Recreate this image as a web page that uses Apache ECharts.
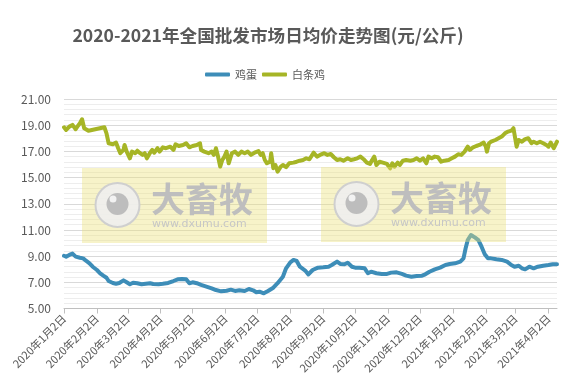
<!DOCTYPE html>
<html><head><meta charset="utf-8">
<script src="https://cdn.jsdelivr.net/npm/echarts@6/dist/echarts.min.js"></script>
<style>html,body{margin:0;padding:0;background:#fff}#c{width:584px;height:390px}</style>
</head><body><div id="c"></div>
<script>
const titleText = '2020-2021年全国批发市场日均价走势图(元/公斤)';
const seriesNames = ['鸡蛋', '白条鸡'];
const tickDates = ['2020-01-02','2020-02-02','2020-03-02','2020-04-02','2020-05-02','2020-06-02','2020-07-02','2020-08-02','2020-09-02','2020-10-02','2020-11-02','2020-12-02','2021-01-02','2021-02-02','2021-03-02','2021-04-02'];
const axisStart = '2020-01-02';
const axisEnd = '2021-04-10';

const eggDates = [
'2020-01-02','2020-01-04','2020-01-07','2020-01-10','2020-01-13','2020-01-17','2020-01-20','2020-01-23','2020-01-26','2020-01-29',
'2020-02-02','2020-02-05','2020-02-08','2020-02-11','2020-02-13','2020-02-17','2020-02-20','2020-02-23','2020-02-27',
'2020-03-01','2020-03-04','2020-03-07','2020-03-11','2020-03-15','2020-03-19','2020-03-23','2020-03-26','2020-03-31',
'2020-04-04','2020-04-09','2020-04-14','2020-04-18','2020-04-22','2020-04-26','2020-04-29',
'2020-05-02','2020-05-06','2020-05-10','2020-05-15','2020-05-20','2020-05-24','2020-05-29',
'2020-06-03','2020-06-07','2020-06-11','2020-06-15','2020-06-20','2020-06-24','2020-06-28',
'2020-07-01','2020-07-04','2020-07-08','2020-07-12','2020-07-17','2020-07-21','2020-07-26','2020-07-29',
'2020-08-02','2020-08-05','2020-08-08','2020-08-11','2020-08-16','2020-08-19','2020-08-23','2020-08-28',
'2020-09-02','2020-09-07','2020-09-10','2020-09-15','2020-09-18','2020-09-22','2020-09-25','2020-09-29',
'2020-10-02','2020-10-06','2020-10-11','2020-10-14','2020-10-17','2020-10-22','2020-10-27',
'2020-11-01','2020-11-05','2020-11-10','2020-11-15','2020-11-19','2020-11-24','2020-11-29',
'2020-12-04','2020-12-07','2020-12-11','2020-12-16','2020-12-21','2020-12-26','2020-12-30',
'2021-01-04','2021-01-09','2021-01-12','2021-01-14','2021-01-16','2021-01-19','2021-01-23','2021-01-26','2021-01-29',
'2021-02-01','2021-02-04','2021-02-07','2021-02-12','2021-02-17','2021-02-22','2021-02-26',
'2021-03-01','2021-03-05','2021-03-08','2021-03-11','2021-03-15','2021-03-19','2021-03-23','2021-03-28',
'2021-04-02','2021-04-06','2021-04-10'];
const eggValues = [
9.03,8.96,9.09,9.19,8.96,8.88,8.83,8.63,8.45,8.19,
7.94,7.69,7.51,7.35,7.10,6.95,6.89,6.95,7.15,
7.00,6.85,6.97,6.93,6.85,6.89,6.93,6.87,6.85,
6.89,6.95,7.10,7.23,7.25,7.23,6.93,
7.00,6.93,6.80,6.67,6.54,6.41,6.31,
6.36,6.44,6.34,6.39,6.34,6.49,6.39,
6.24,6.28,6.16,6.34,6.59,6.93,7.43,8.07,
8.53,8.71,8.63,8.19,7.90,7.60,7.94,8.12,
8.15,8.19,8.32,8.58,8.40,8.38,8.50,8.19,
8.12,8.12,8.07,7.69,7.81,7.69,7.64,
7.64,7.74,7.76,7.64,7.51,7.43,7.48,
7.51,7.61,7.81,7.99,8.12,8.32,8.40,
8.45,8.58,8.83,9.60,10.23,10.61,10.41,10.23,9.72,
9.14,8.83,8.83,8.76,8.71,8.58,8.32,
8.19,8.27,8.07,7.99,8.19,8.07,8.19,8.27,
8.32,8.38,8.38];

const chickenDates = [
'2020-01-02','2020-01-04','2020-01-07','2020-01-10','2020-01-13','2020-01-15','2020-01-17','2020-01-19','2020-01-21','2020-01-25',
'2020-02-09','2020-02-11','2020-02-13','2020-02-17','2020-02-20','2020-02-22','2020-02-24','2020-02-27','2020-02-28',
'2020-03-01','2020-03-04','2020-03-06','2020-03-09','2020-03-11','2020-03-13','2020-03-16','2020-03-18','2020-03-20','2020-03-23','2020-03-25','2020-03-27','2020-03-30',
'2020-04-01','2020-04-04','2020-04-07','2020-04-11','2020-04-14','2020-04-16','2020-04-19','2020-04-23','2020-04-26','2020-04-29',
'2020-05-02','2020-05-06','2020-05-09','2020-05-10','2020-05-13','2020-05-17','2020-05-20','2020-05-22','2020-05-24','2020-05-26','2020-05-28','2020-05-30',
'2020-06-01','2020-06-03','2020-06-05','2020-06-08','2020-06-11','2020-06-14','2020-06-17','2020-06-20','2020-06-23','2020-06-26','2020-06-30',
'2020-07-03','2020-07-05','2020-07-07','2020-07-09','2020-07-11','2020-07-14','2020-07-15','2020-07-17','2020-07-19','2020-07-21','2020-07-24','2020-07-26','2020-07-29',
'2020-08-01','2020-08-05','2020-08-08','2020-08-11','2020-08-14','2020-08-17','2020-08-20','2020-08-24','2020-08-27','2020-08-30',
'2020-09-03','2020-09-06','2020-09-09','2020-09-12','2020-09-15','2020-09-18','2020-09-21','2020-09-25','2020-09-28',
'2020-10-01','2020-10-04','2020-10-07','2020-10-10','2020-10-13','2020-10-16','2020-10-18','2020-10-20','2020-10-22','2020-10-25','2020-10-28',
'2020-11-01','2020-11-04','2020-11-06','2020-11-08','2020-11-11','2020-11-13','2020-11-16','2020-11-19','2020-11-23','2020-11-26','2020-11-29',
'2020-12-02','2020-12-05','2020-12-08','2020-12-10','2020-12-13','2020-12-16','2020-12-19','2020-12-22','2020-12-25','2020-12-29',
'2021-01-01','2021-01-04','2021-01-07','2021-01-10','2021-01-13','2021-01-16','2021-01-18','2021-01-21','2021-01-24','2021-01-27','2021-01-31',
'2021-02-02','2021-02-03','2021-02-05','2021-02-07','2021-02-11','2021-02-14','2021-02-17','2021-02-20','2021-02-23','2021-02-26','2021-02-28',
'2021-03-01','2021-03-03','2021-03-05','2021-03-08','2021-03-11','2021-03-14','2021-03-17','2021-03-19','2021-03-22','2021-03-25','2021-03-28','2021-03-31',
'2021-04-02','2021-04-04','2021-04-07','2021-04-10'];
const chickenValues = [
18.84,18.64,18.89,19.02,18.69,18.94,19.15,19.45,18.77,18.58,
18.84,18.38,17.62,17.54,17.67,17.24,16.86,17.11,17.49,
16.98,16.47,16.98,16.86,17.05,16.90,16.73,16.86,16.47,16.90,17.11,16.90,17.24,
16.98,17.31,17.24,17.36,17.11,17.54,17.41,17.49,17.62,17.31,
17.41,17.49,17.62,17.11,16.98,16.86,16.98,16.73,17.24,16.60,15.83,16.34,
16.60,16.98,16.09,16.86,16.98,16.73,16.98,16.86,16.98,16.73,16.93,
17.03,16.73,16.86,16.34,16.09,16.21,16.86,15.71,15.96,15.45,15.83,15.96,15.79,
16.09,16.14,16.21,16.29,16.34,16.47,16.40,16.90,16.60,16.73,
16.86,16.73,16.80,16.55,16.34,16.40,16.29,16.47,16.34,
16.40,16.47,16.60,16.40,16.14,16.04,16.34,16.60,15.96,16.21,16.14,
16.04,15.71,16.09,15.83,16.14,15.96,16.29,16.34,16.29,16.34,16.47,
16.29,16.47,16.09,16.60,16.47,16.60,16.55,16.21,16.29,16.34,
16.47,16.60,16.78,16.73,16.98,17.36,17.11,17.31,17.41,17.49,17.67,
17.36,16.98,17.62,17.74,17.87,18.00,18.13,18.38,18.51,18.58,18.77,
18.89,17.36,17.87,17.74,17.93,18.00,17.62,17.74,17.62,17.74,17.62,17.49,
17.36,17.67,17.24,17.74];

const toTs = s => { const p = s.split('-').map(Number); return new Date(p[0], p[1] - 1, p[2]).getTime(); };
const zip = (ds, vs) => ds.map((d, i) => [toTs(d), vs[i]]);
const tickTs = tickDates.map(toTs);
const fmtDate = v => { const d = new Date(v); return d.getFullYear() + '年' + (d.getMonth() + 1) + '月' + d.getDate() + '日'; };
const FONT = '"Noto Sans CJK SC", "Noto Sans", sans-serif';

function watermark(x0, y0) {
  return {
    type: 'group', x: x0, y: y0, z: 100,
    children: [
      { type: 'rect', z: 100, shape: { x: 0, y: 0, width: 185, height: 75 }, style: { fill: 'rgba(236,224,120,0.40)' } },
      { type: 'circle', z: 101, shape: { cx: 35.5, cy: 37, r: 22 }, style: { fill: 'rgba(238,238,238,0.9)', stroke: '#CFCFCF', lineWidth: 2 } },
      { type: 'circle', z: 102, shape: { cx: 35.5, cy: 36, r: 11 }, style: { fill: '#BDBDBD' } },
      { type: 'circle', z: 103, shape: { cx: 31, cy: 31, r: 3.5 }, style: { fill: '#F2F2F2' } },
      { type: 'text', z: 101, x: 69, y: 14, style: { text: '大畜牧', font: 'bold 34px ' + FONT, fill: '#BEBEBE', textVerticalAlign: 'top' } },
      { type: 'text', z: 101, x: 70, y: 56, style: { text: 'www.dxumu.com', font: '11px "DejaVu Sans", sans-serif', fill: '#C6C6C6', textVerticalAlign: 'middle' } }
    ]
  };
}

const chart = echarts.init(document.getElementById('c'), null, { renderer: 'canvas' });
chart.setOption({
  animation: false,
  backgroundColor: '#ffffff',
  title: {
    text: titleText, left: 268, top: 27, textAlign: 'center', padding: 0,
    textStyle: { fontSize: 17.6, fontWeight: 'bold', color: '#595959', fontFamily: FONT }
  },
  legend: {
    data: seriesNames, left: 205, top: 69, itemWidth: 25, itemHeight: 4, itemGap: 5, padding: 0,
    icon: 'roundRect',
    textStyle: { fontSize: 11, color: '#595959', fontFamily: FONT }
  },
  grid: { left: 64, right: 27, top: 99, bottom: 81.5 },
  xAxis: {
    type: 'value', min: toTs(axisStart), max: toTs(axisEnd), scale: true,
    axisLine: { lineStyle: { color: '#BFBFBF', width: 1 } },
    axisTick: { show: true, customValues: tickTs, length: 5, lineStyle: { color: '#BFBFBF' } },
    axisLabel: { customValues: tickTs, rotate: 45, formatter: fmtDate, fontSize: 11, color: '#595959', margin: 8, fontFamily: FONT, showMinLabel: true, showMaxLabel: true },
    splitLine: { show: false }
  },
  yAxis: {
    type: 'value', min: 5, max: 21, interval: 2,
    axisLine: { show: false }, axisTick: { show: false },
    axisLabel: { formatter: v => v.toFixed(2), fontSize: 12, color: '#595959', margin: 13, fontFamily: FONT },
    splitLine: { lineStyle: { color: '#D9D9D9', width: 1 } },
    minorTick: { show: false, splitNumber: 5 },
    minorSplitLine: { show: true, lineStyle: { color: '#EDEDED', width: 1 } }
  },
  series: [
    { name: seriesNames[0], type: 'line', data: zip(eggDates, eggValues), showSymbol: false, symbol: 'none',
      lineStyle: { color: '#3D8DB8', width: 4, cap: 'round', join: 'round' }, itemStyle: { color: '#3D8DB8' } },
    { name: seriesNames[1], type: 'line', data: zip(chickenDates, chickenValues), showSymbol: false, symbol: 'none',
      lineStyle: { color: '#A6B526', width: 4, cap: 'round', join: 'round' }, itemStyle: { color: '#A6B526' } }
  ],
  graphic: [watermark(82, 168), watermark(321, 167)]
});
</script></body></html>
